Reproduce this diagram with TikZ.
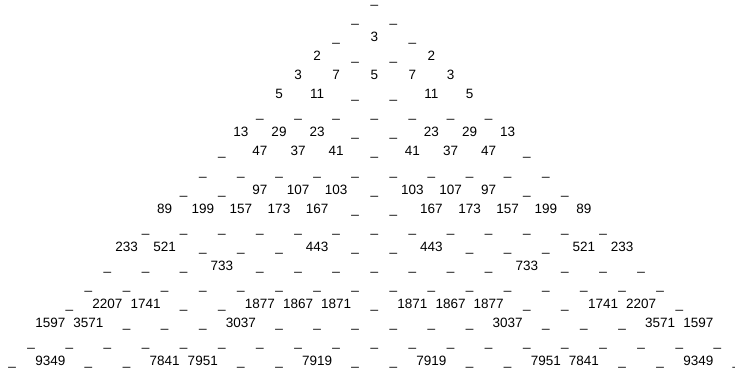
\documentclass[tikz,border=0pt]{standalone}
\usepackage{fontspec}
\setmainfont{Liberation Sans}
\newcommand{\uscore}{\textunderscore}
\newcommand{\hs}{19.06}
\newcommand{\vs}{19.07}
\newcommand{\primerow}[2]{%
  \foreach \lbl [count=\i from 0] in {#2} {
    \node[cell] (n#1-\i) at ({(2*\i-#1)*\hs},{#1*\vs}) {\lbl};
  }}
\newcommand{\blankrow}[1]{%
  \foreach \i in {0,...,#1} {
    \node[cell] (n#1-\i) at ({(2*\i-#1)*\hs},{#1*\vs}) {\uscore};
  }}
\begin{document}
\begin{tikzpicture}[x=1pt,y=-1pt,
  cell/.style={anchor=base, inner sep=0pt, font=\fontsize{13.5}{16}\selectfont}]
\useasboundingbox (0,0) rectangle (735,374);
\begin{scope}[shift={(374.3,3.4)}]
\blankrow{0}
\blankrow{1}
\primerow{2}{\uscore,3,\uscore}
\primerow{3}{2,\uscore,\uscore,2}
\primerow{4}{3,7,5,7,3}
\primerow{5}{5,11,\uscore,\uscore,11,5}
\blankrow{6}
\primerow{7}{13,29,23,\uscore,\uscore,23,29,13}
\primerow{8}{\uscore,47,37,41,\uscore,41,37,47,\uscore}
\blankrow{9}
\primerow{10}{\uscore,\uscore,97,107,103,\uscore,103,107,97,\uscore,\uscore}
\primerow{11}{89,199,157,173,167,\uscore,\uscore,167,173,157,199,89}
\blankrow{12}
\primerow{13}{233,521,\uscore,\uscore,\uscore,443,\uscore,\uscore,443,\uscore,\uscore,\uscore,521,233}
\primerow{14}{\uscore,\uscore,\uscore,733,\uscore,\uscore,\uscore,\uscore,\uscore,\uscore,\uscore,733,\uscore,\uscore,\uscore}
\blankrow{15}
\primerow{16}{\uscore,2207,1741,\uscore,\uscore,1877,1867,1871,\uscore,1871,1867,1877,\uscore,\uscore,1741,2207,\uscore}
\primerow{17}{1597,3571,\uscore,\uscore,\uscore,3037,\uscore,\uscore,\uscore,\uscore,\uscore,\uscore,3037,\uscore,\uscore,\uscore,3571,1597}
\blankrow{18}
\primerow{19}{\uscore,9349,\uscore,\uscore,7841,7951,\uscore,\uscore,7919,\uscore,\uscore,7919,\uscore,\uscore,7951,7841,\uscore,\uscore,9349,\uscore}
\end{scope}
\end{tikzpicture}
\end{document}
